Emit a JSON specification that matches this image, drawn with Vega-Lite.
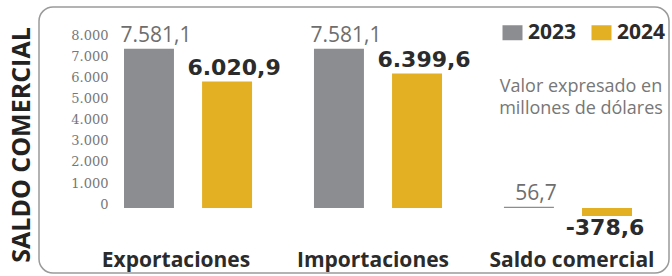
{
  "$schema": "https://vega.github.io/schema/vega-lite/v6.json",
  "width": 630,
  "height": 266,
  "autosize": {"type": "none"},
  "padding": {"left": 39, "top": 7, "right": 3, "bottom": 3},
  "title": {
    "text": "SALDO COMERCIAL",
    "orient": "left",
    "anchor": "middle",
    "font": "Open Sans",
    "fontSize": 25,
    "fontWeight": "bold",
    "color": "#222222",
    "baseline": "alphabetic",
    "offset": -16,
    "dx": -5
  },
  "config": {
    "locale": {
      "number": {
        "decimal": ",",
        "thousands": ".",
        "grouping": [3],
        "currency": ["$", ""],
        "minus": "-"
      }
    },
    "view": {"stroke": "#9a9a9a", "strokeWidth": 1.5, "cornerRadius": 14},
    "font": "Open Sans"
  },
  "data": {
    "values": [
      {"categoria": "Exportaciones", "anio": "2023", "valor": 7581.1},
      {"categoria": "Exportaciones", "anio": "2024", "valor": 6020.9},
      {"categoria": "Importaciones", "anio": "2023", "valor": 7581.1},
      {"categoria": "Importaciones", "anio": "2024", "valor": 6399.6},
      {"categoria": "Saldo comercial", "anio": "2023", "valor": 56.7},
      {"categoria": "Saldo comercial", "anio": "2024", "valor": -378.6}
    ]
  },
  "encoding": {
    "x": {
      "field": "categoria",
      "type": "nominal",
      "sort": ["Exportaciones", "Importaciones", "Saldo comercial"],
      "scale": {"range": [85, 593], "paddingInner": 0.326, "paddingOuter": 0},
      "axis": {
        "title": null,
        "orient": "bottom",
        "offset": -7,
        "domain": false,
        "ticks": false,
        "tickSize": 0,
        "grid": false,
        "labelPadding": 0,
        "labelBaseline": "alphabetic",
        "labelFont": "Open Sans",
        "labelFontWeight": "bold",
        "labelFontSize": 21,
        "labelColor": "#2b2b2b",
        "labelOffset": {
          "condition": [
            {"test": "datum.value == 'Exportaciones'", "value": -12},
            {"test": "datum.value == 'Saldo comercial'", "value": 4}
          ],
          "value": -5
        },
        "labelAngle": 0,
        "labelLimit": 0
      }
    },
    "xOffset": {
      "field": "anio",
      "type": "nominal",
      "scale": {"paddingInner": 0.36, "paddingOuter": 0}
    },
    "y": {
      "field": "valor",
      "type": "quantitative",
      "scale": {"domain": [-3095, 9571], "nice": false, "zero": false},
      "axis": {
        "title": null,
        "values": [0, 1000, 2000, 3000, 4000, 5000, 6000, 7000, 8000],
        "format": ",.0f",
        "offset": -69,
        "domain": false,
        "ticks": false,
        "tickSize": 0,
        "grid": false,
        "labelPadding": 0,
        "labelFont": "DejaVu Serif",
        "labelFontSize": 13,
        "labelColor": "#777777",
        "labelOffset": -4
      }
    }
  },
  "layer": [
    {
      "mark": {"type": "bar"},
      "encoding": {
        "color": {
          "field": "anio",
          "type": "nominal",
          "scale": {"domain": ["2023", "2024"], "range": ["#8c8d91", "#e3af23"]},
          "legend": {
            "orient": "none",
            "legendX": 458,
            "legendY": 15,
            "direction": "horizontal",
            "title": ["Valor expresado en", "millones de dólares"],
            "titleOrient": "bottom",
            "titleAnchor": "middle",
            "titleAlign": "center",
            "titleFont": "Open Sans",
            "titleFontWeight": "normal",
            "titleFontSize": 18,
            "titleColor": "#777777",
            "titleLineHeight": 22,
            "titlePadding": 35,
            "titleLimit": 0,
            "symbolType": "M-1,-0.75H1V0.75H-1Z",
            "symbolSize": 400,
            "symbolStrokeWidth": 0,
            "symbolOpacity": 1,
            "symbolOffset": 5,
            "labelFont": "Open Sans",
            "labelFontWeight": "bold",
            "labelFontSize": 21,
            "labelColor": "#2b2b2b",
            "labelOffset": 5,
            "columnPadding": 9,
            "padding": 0
          }
        }
      }
    },
    {
      "transform": [{"filter": "datum.anio == '2023'"}],
      "mark": {
        "type": "text",
        "font": "Open Sans",
        "fontSize": 21,
        "color": "#6e6e6e",
        "baseline": "alphabetic",
        "align": "center",
        "dx": 7,
        "dy": -7
      },
      "encoding": {"text": {"field": "valor", "type": "quantitative", "format": ",.1f"}}
    },
    {
      "transform": [{"filter": "datum.anio == '2024' && datum.valor > 0"}],
      "mark": {
        "type": "text",
        "font": "DejaVu Sans",
        "fontWeight": "bold",
        "fontSize": 22,
        "color": "#2b2b2b",
        "baseline": "alphabetic",
        "align": "center",
        "dx": 7,
        "dy": -7
      },
      "encoding": {"text": {"field": "valor", "type": "quantitative", "format": ",.1f"}}
    },
    {
      "transform": [{"filter": "datum.anio == '2024' && datum.valor < 0"}],
      "mark": {
        "type": "text",
        "font": "DejaVu Sans",
        "fontWeight": "bold",
        "fontSize": 22,
        "color": "#2b2b2b",
        "baseline": "top",
        "align": "center",
        "dx": -2,
        "dy": 2
      },
      "encoding": {"text": {"field": "valor", "type": "quantitative", "format": ",.1f"}}
    }
  ]
}
